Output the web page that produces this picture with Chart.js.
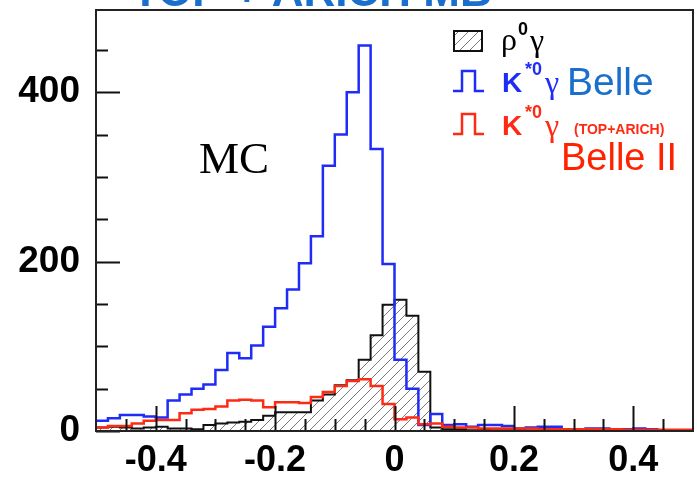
<!DOCTYPE html>
<html><head><meta charset="utf-8">
<script src="https://cdn.jsdelivr.net/npm/chart.js@4.4.1/dist/chart.umd.min.js"></script>
<style>html,body{margin:0;padding:0;background:#fff;}#wrap{width:697px;height:480px;}</style>
</head><body><div id="wrap"><canvas id="c" width="697" height="480"></canvas></div>
<script>
// ---- data (bins of width 0.02 from -0.5 to 0.5) ----
const binLowEdges = [-0.50,-0.48,-0.46,-0.44,-0.42,-0.40,-0.38,-0.36,-0.34,-0.32,
  -0.30,-0.28,-0.26,-0.24,-0.22,-0.20,-0.18,-0.16,-0.14,-0.12,
  -0.10,-0.08,-0.06,-0.04,-0.02,0.00,0.02,0.04,0.06,0.08,
  0.10,0.12,0.14,0.16,0.18,0.20,0.22,0.24,0.26,0.28,
  0.30,0.32,0.34,0.36,0.38,0.40,0.42,0.44,0.46,0.48];
const binUpperEdge = 0.5;
const rhoGamma = [4,5,4,3,4,5,3,3,2,7, 9,10,11,13,18,22,22,22,36,43, 54,60,84,113,149,155,136,70,4,2, 2,1,2,1,1,1,0.5,0.5,0.5,0, 0,0,0,0,0,0,0,0,0,0];
const kstarGammaBelle = [12,15,19,19,17,16,36,43,50,55, 72,92,86,101,123,145,167,198,230,313, 350,400,455,333,197,84,50,7,20,7, 8,5,7,7,6,3,4,5,5,2, 2,3,3,2,2,3,2,1,1,1];
const kstarGammaBelle2 = [4,6,6,9,12,13,13,21,25,26, 29,36,37,36,28,34,34,33,40,46, 53,59,61,53,32,14,16,8,9,5, 4,4,3,3,3,3,3,2,2,2, 2,2,2,2,1.5,1.5,1.5,1.5,1.5,1.5];
const xTickLabels = [-0.4,-0.2,0,0.2,0.4];
const yTickLabels = [0,200,400];
const xTickMarks = [-0.45,-0.4,-0.35,-0.3,-0.25,-0.2,-0.15,-0.1,-0.05,0,0.05,0.1,0.15,0.2,0.25,0.3,0.35,0.4,0.45];
const yTickMarks = [0,50,100,150,200,250,300,350,400,450];

function histPoints(vals){
  const pts = vals.map((v,i)=>({x:binLowEdges[i], y:v}));
  pts.push({x:binUpperEdge, y:vals[vals.length-1]});
  return pts;
}
function makeHatch(){
  const c=document.createElement('canvas'); c.width=10; c.height=10;
  const g=c.getContext('2d'); g.strokeStyle='#7a7a7a'; g.lineWidth=1;
  g.beginPath();
  g.moveTo(-1,11); g.lineTo(11,-1);
  g.moveTo(-6,6); g.lineTo(6,-6);
  g.moveTo(4,16); g.lineTo(16,4);
  g.stroke();
  return g.createPattern(c,'repeat');
}
const hatch = makeHatch();

const BLUE='#1f2cf7', RED='#ff2a14', BELLE_BLUE='#1b6fcc', BELLE_RED='#ff2200';

const decor = {
  id:'decor',
  beforeDraw(chart){
    const ctx=chart.ctx; ctx.save(); ctx.fillStyle='#fff'; ctx.fillRect(0,0,chart.width,chart.height); ctx.restore();
  },
  afterDatasetsDraw(chart){
    const ctx=chart.ctx, a=chart.chartArea, xs=chart.scales.x, ys=chart.scales.y;
    ctx.save();
    // tick marks (inward)
    ctx.strokeStyle='#111'; ctx.lineWidth=2;
    ctx.beginPath();
    xTickMarks.forEach(v=>{
      const px=Math.round(xs.getPixelForValue(v))+0.5;
      const isMajor = Math.abs(Math.round(v*5)-v*5)<1e-9;
      const len = isMajor ? 25 : 12;
      ctx.moveTo(px,a.bottom); ctx.lineTo(px,a.bottom-len);
    });
    yTickMarks.forEach(v=>{
      const py=Math.round(ys.getPixelForValue(v))+0.5;
      const len = (v%200===0) ? 24 : 12;
      ctx.moveTo(a.left,py); ctx.lineTo(a.left+len,py);
    });
    ctx.stroke();
    // frame
    ctx.lineWidth=2; ctx.strokeStyle='#222';
    ctx.strokeRect(a.left, a.top, a.right-a.left, a.bottom-a.top);

    // MC label
    ctx.fillStyle='#000'; ctx.textBaseline='alphabetic'; ctx.textAlign='left';
    ctx.font='45px "Liberation Serif"';
    ctx.fillText('MC',199,173);

    // partial (cropped) title at top
    ctx.fillStyle=BELLE_BLUE; ctx.font='bold 44px "Liberation Sans"';
    ctx.fillText('TOP + ARICH MB',132,6);

    // legend: rho gamma
    ctx.lineWidth=2; ctx.strokeStyle='#111';
    ctx.fillStyle=hatch; ctx.fillRect(454,31,28,20);
    ctx.strokeRect(454,31,28,20);
    ctx.fillStyle='#000';
    ctx.font='32px "Liberation Serif"'; ctx.fillText('\u03c1',501,50);
    ctx.font='bold 18px "Liberation Sans"'; ctx.fillText('0',518,35);
    ctx.font='32px "Liberation Serif"'; ctx.fillText('\u03b3',530,51);

    function stepSym(y0,y1,col){
      ctx.strokeStyle=col; ctx.lineWidth=2.5; ctx.beginPath();
      ctx.moveTo(453,y1); ctx.lineTo(462,y1); ctx.lineTo(462,y0); ctx.lineTo(475,y0); ctx.lineTo(475,y1); ctx.lineTo(484,y1);
      ctx.stroke();
    }
    function kgamma(base,col){
      ctx.fillStyle=col;
      ctx.font='bold 28px "Liberation Sans"'; ctx.fillText('K',502,base);
      ctx.font='bold 18px "Liberation Sans"'; ctx.fillText('*0',525,base-17);
      ctx.font='32px "Liberation Serif"'; ctx.fillText('\u03b3',545,base+1);
    }
    stepSym(71,91,BLUE); kgamma(92,BLUE);
    ctx.fillStyle=BELLE_BLUE; ctx.font='39px "Liberation Sans"'; ctx.fillText('Belle',567,95);
    stepSym(114,134,RED); kgamma(135,RED);
    ctx.fillStyle=RED; ctx.font='bold 14px "Liberation Sans"'; ctx.fillText('(TOP+ARICH)',574,134);
    ctx.fillStyle=BELLE_RED; ctx.font='38px "Liberation Sans"'; ctx.fillText('Belle II',561,170);
    ctx.restore();
  }
};

new Chart(document.getElementById('c'),{
  type:'line',
  data:{datasets:[
    {label:'K*0γ (TOP+ARICH) Belle II', data:histPoints(kstarGammaBelle2), stepped:true, borderColor:RED, borderWidth:2.5, pointRadius:0, fill:false, order:1},
    {label:'K*0γ Belle', data:histPoints(kstarGammaBelle), stepped:true, borderColor:BLUE, borderWidth:2.5, pointRadius:0, fill:false, order:2},
    {label:'ρ0γ', data:histPoints(rhoGamma), stepped:true, borderColor:'#111', borderWidth:2, pointRadius:0, fill:'origin', backgroundColor:hatch, order:3}
  ]},
  options:{
    responsive:false, animation:false, devicePixelRatio:1,
    layout:{padding:{top:10,right:4,left:0,bottom:0}},
    plugins:{legend:{display:false}, tooltip:{enabled:false}},
    scales:{
      x:{type:'linear', min:-0.5, max:0.5,
        grid:{display:false, drawTicks:false}, border:{display:false},
        ticks:{autoSkip:false, maxRotation:0, padding:8, color:'#000',
          font:{family:'"Liberation Sans"', size:36, weight:'bold'},
          callback:v=>String(Math.round(v*10)/10)},
        afterBuildTicks:s=>{s.ticks=xTickLabels.map(v=>({value:v}));},
        afterFit:s=>{s.height=49; s.paddingLeft=0; s.paddingRight=0;}
      },
      y:{type:'linear', min:0, max:497,
        grid:{display:false, drawTicks:false}, border:{display:false},
        ticks:{autoSkip:false, padding:16, color:'#000',
          font:{family:'"Liberation Sans"', size:37, weight:'bold'},
          callback:v=>String(v)},
        afterBuildTicks:s=>{s.ticks=yTickLabels.map(v=>({value:v}));},
        afterFit:s=>{s.width=96; s.paddingTop=0; s.paddingBottom=0;}
      }
    }
  },
  plugins:[decor]
});
</script></body></html>
